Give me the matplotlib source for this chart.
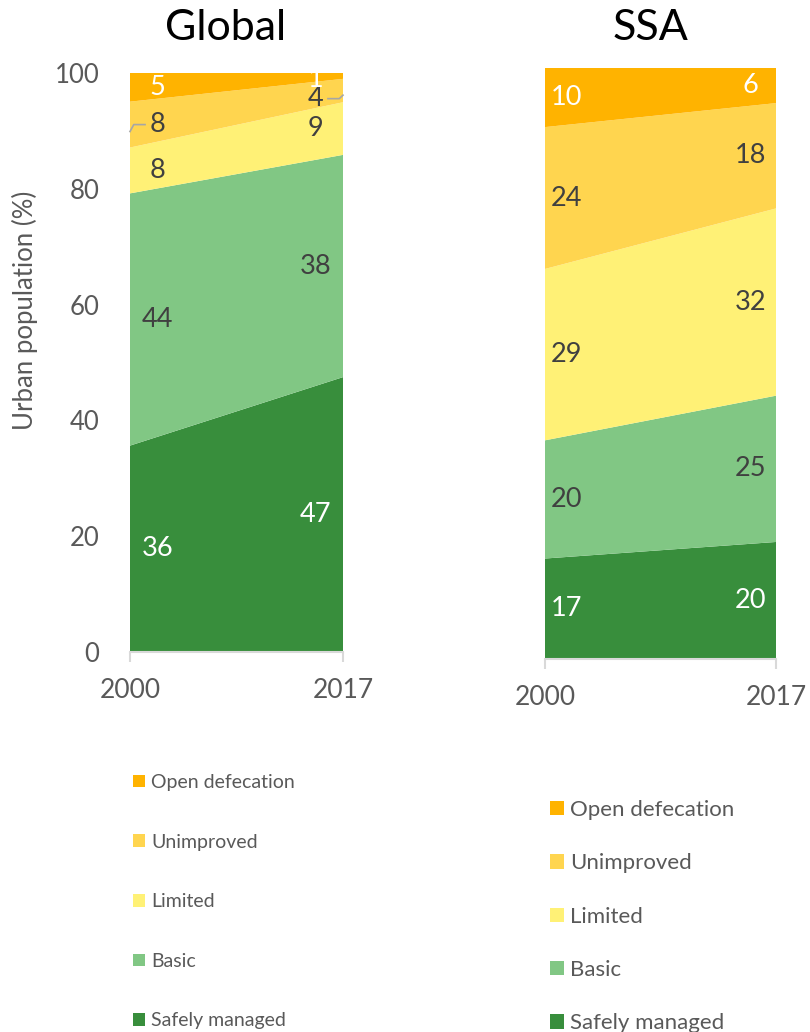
import matplotlib.pyplot as plt
from matplotlib.patches import Patch

plt.rcParams['font.family'] = ['Lato', 'DejaVu Sans']

years = [2000, 2017]
categories = ['Safely managed', 'Basic', 'Limited', 'Unimproved', 'Open defecation']
colors = ['#388E3C', '#81C784', '#FFF176', '#FFD54F', '#FFB300']
label_colors = ['white', '#404040', '#404040', '#404040', 'white']

# urban sanitation coverage (%), bottom to top of the stack
global_2000 = [36, 44, 8, 8, 5]
global_2017 = [47, 38, 9, 4, 1]
ssa_2000 = [17, 20, 29, 24, 10]
ssa_2017 = [20, 25, 32, 18, 6]

grey = '#595959'
axis_grey = '#D9D9D9'

fig = plt.figure(figsize=(8.1, 10.32), dpi=100)
ax1 = fig.add_axes([130/810, 1 - 652/1032, 213/810, 579/1032])
ax2 = fig.add_axes([545/810, 1 - 659/1032, 231/810, 591/1032])


def draw_panel(ax, v2000, v2017, lx, show_y, nudge=None):
    # rounded shares don't always add up to 100, so scale each year to 100 %
    cols = []
    for vals in (v2000, v2017):
        tot = sum(vals)
        cols.append([v * 100 / tot for v in vals])
    series = [[a, b] for a, b in zip(cols[0], cols[1])]
    ax.stackplot(years, *series, colors=colors, linewidth=0)
    ax.set_xlim(2000, 2017)
    ax.set_ylim(0, 100)
    nudge = nudge or {}
    # value labels in the middle of each band
    for side, vals in ((0, v2000), (1, v2017)):
        base = 0
        for i, (v, h, c) in enumerate(zip(vals, cols[side], label_colors)):
            mid = min(base + h / 2, 98.9) + nudge.get((side, i), 0)
            ax.text(lx[side], mid, str(v), ha='center', va='center',
                    fontsize=19.5, color=c)
            base += h
    for s in ('top', 'right', 'left'):
        ax.spines[s].set_visible(False)
    ax.spines['bottom'].set_color(axis_grey)
    ax.spines['bottom'].set_linewidth(1.5)
    ax.set_xticks(years)
    ax.set_xticklabels([str(y) for y in years])
    ax.tick_params(axis='x', length=7, width=1.5, color=axis_grey,
                   labelsize=19, labelcolor=grey, pad=12)
    if show_y:
        ax.set_yticks(range(0, 101, 20))
        ax.tick_params(axis='y', length=0, labelsize=18.5, labelcolor=grey, pad=22)
    else:
        ax.set_yticks([])
    return cols


# the 2017 "4" sits a bit lower so it clears the "1" above it
g = draw_panel(ax1, global_2000, global_2017, (2002.2, 2014.8), True,
               nudge={(1, 3): -1.4})
draw_panel(ax2, ssa_2000, ssa_2017, (2001.6, 2015.1), False)

# leader lines for the thin unimproved bands
u0 = sum(g[0][:3]) + g[0][3] / 2
u1 = sum(g[1][:3]) + g[1][3] / 2 - 1.4
ax1.plot([2000.0, 2000.3, 2001.2], [u0 - 1.2, u0, u0], color='#A6A6A6', lw=1.2,
         clip_on=False)
ax1.plot([2015.8, 2016.7, 2017.0], [u1, u1, u1 + 0.6], color='#A6A6A6', lw=1.2,
         clip_on=False)

fig.text(226/810, 1 - 28/1032, 'Global', ha='center', va='center', fontsize=31,
         color='black')
fig.text(650/810, 1 - 28/1032, 'SSA', ha='center', va='center', fontsize=31,
         color='black')
fig.text(25/810, 1 - 310/1032, 'Urban population (%)', rotation=90, ha='center',
         va='center', fontsize=18.5, color=grey)

handles = [Patch(facecolor=c, edgecolor='none') for c in colors[::-1]]
names = categories[::-1]

fig.legend(handles, names, loc='upper left',
           bbox_to_anchor=(133/810, 1 - 774/1032), frameon=False,
           fontsize=14, labelcolor=grey, handlelength=0.62, handleheight=0.62,
           handletextpad=0.33, labelspacing=2.19, borderpad=0, borderaxespad=0)
fig.legend(handles, names, loc='upper left',
           bbox_to_anchor=(550/810, 1 - 800/1032), frameon=False,
           fontsize=16, labelcolor=grey, handlelength=0.62, handleheight=0.62,
           handletextpad=0.28, labelspacing=1.5, borderpad=0, borderaxespad=0)

fig.savefig('out.png', dpi=100)
